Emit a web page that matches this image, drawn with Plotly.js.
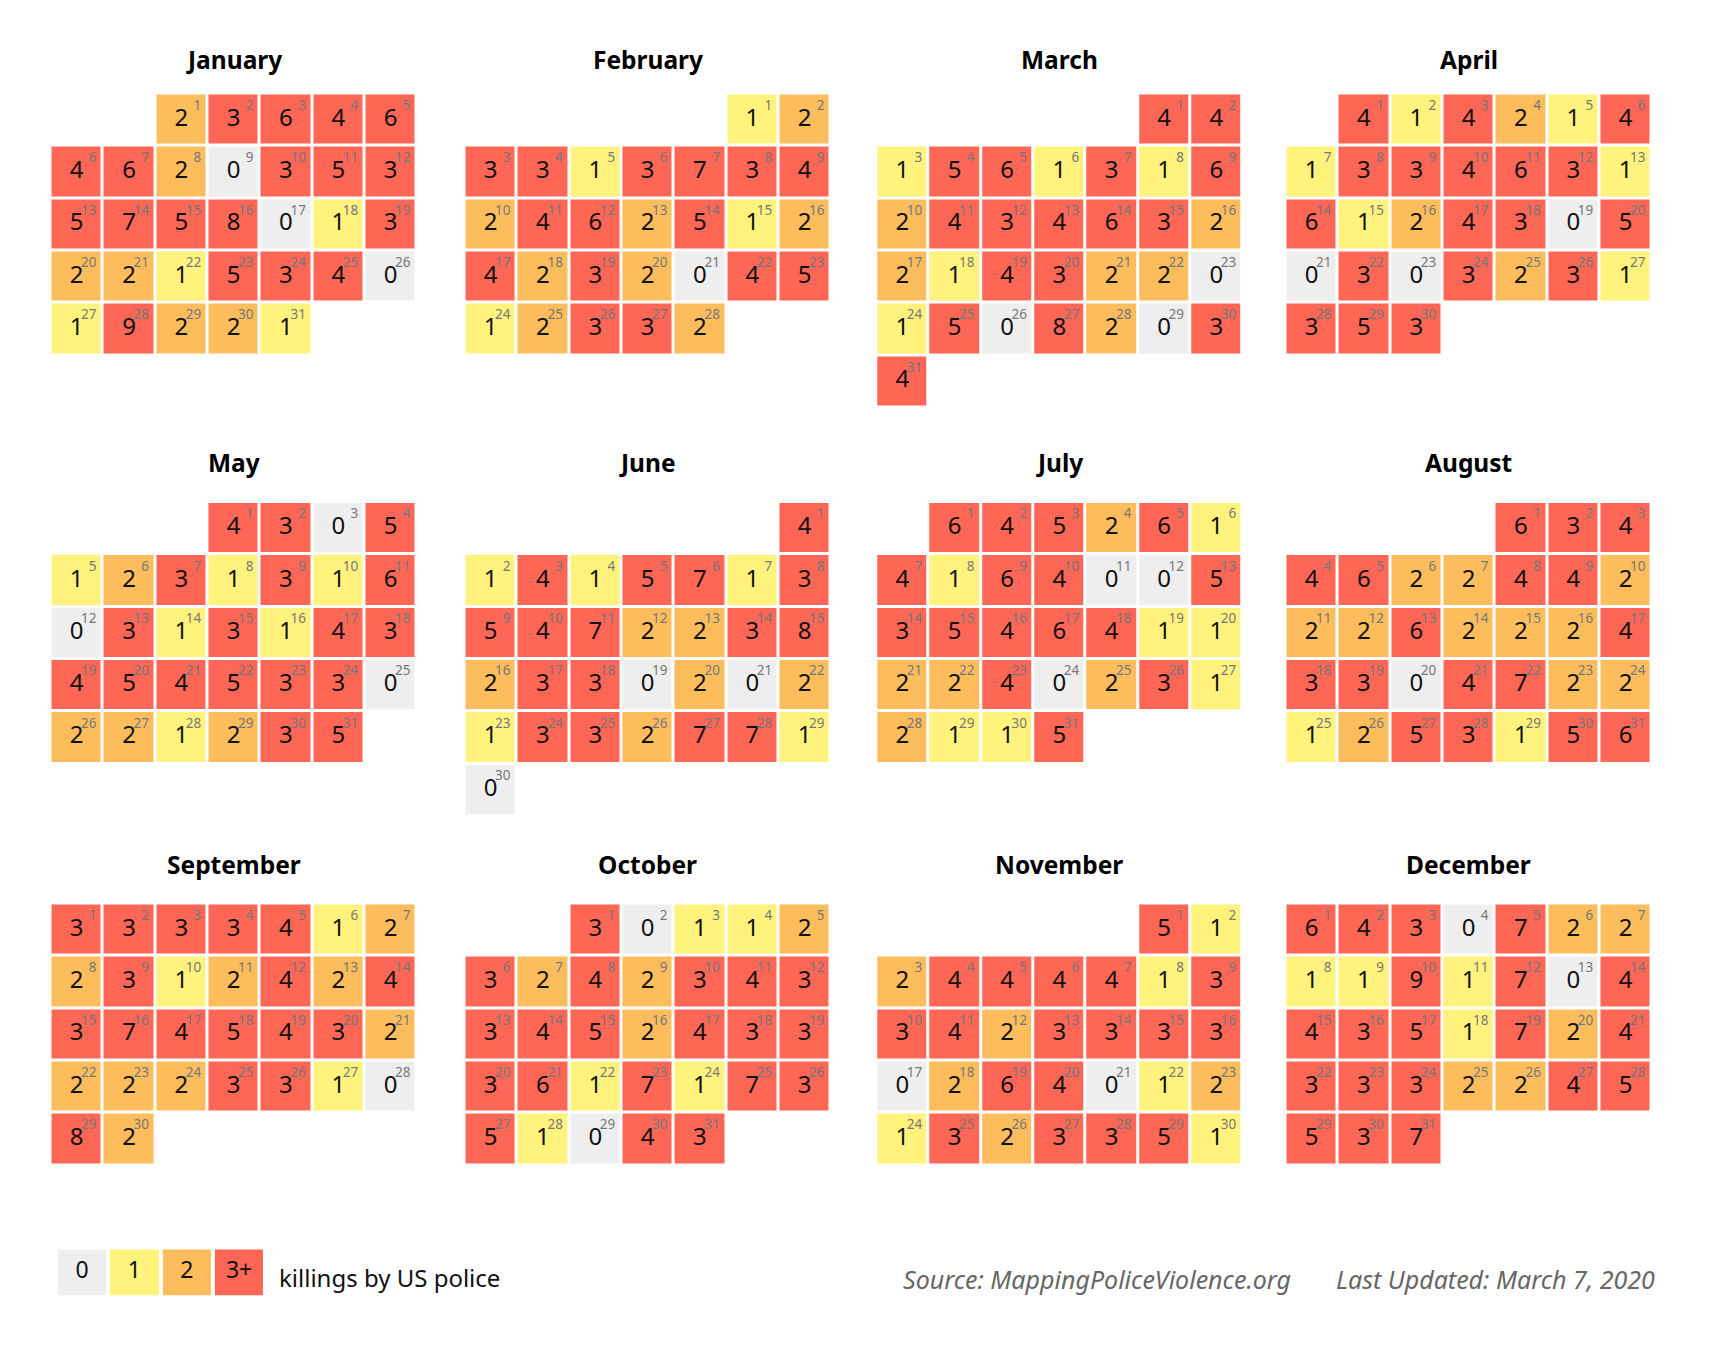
<!DOCTYPE html>
<html>
<head>
<meta charset="utf-8">
<script src="https://cdn.plot.ly/plotly-3.0.1.min.js"></script>
<style>html,body{margin:0;padding:0;background:#fff;}</style>
</head>
<body>
<div id="chart" style="width:1713px;height:1347px;"></div>
<script>
// ---- Data: killings by US police per day, 2019 ----
const year = 2019;
const monthNames = ['January','February','March','April','May','June','July','August','September','October','November','December'];
const jan = [2,3,6,4,6,4,6,2,0,3,5,3,5,7,5,8,0,1,3,2,2,1,5,3,4,0,1,9,2,2,1];
const feb = [1,2,3,3,1,3,7,3,4,2,4,6,2,5,1,2,4,2,3,2,0,4,5,1,2,3,3,2];
const mar = [4,4,1,5,6,1,3,1,6,2,4,3,4,6,3,2,2,1,4,3,2,2,0,1,5,0,8,2,0,3,4];
const apr = [4,1,4,2,1,4,1,3,3,4,6,3,1,6,1,2,4,3,0,5,0,3,0,3,2,3,1,3,5,3];
const may = [4,3,0,5,1,2,3,1,3,1,6,0,3,1,3,1,4,3,4,5,4,5,3,3,0,2,2,1,2,3,5];
const jun = [4,1,4,1,5,7,1,3,5,4,7,2,2,3,8,2,3,3,0,2,0,2,1,3,3,2,7,7,1,0];
const jul = [6,4,5,2,6,1,4,1,6,4,0,0,5,3,5,4,6,4,1,1,2,2,4,0,2,3,1,2,1,1,5];
const aug = [6,3,4,4,6,2,2,4,4,2,2,2,6,2,2,2,4,3,3,0,4,7,2,2,1,2,5,3,1,5,6];
const sep = [3,3,3,3,4,1,2,2,3,1,2,4,2,4,3,7,4,5,4,3,2,2,2,2,3,3,1,0,8,2];
const oct = [3,0,1,1,2,3,2,4,2,3,4,3,3,4,5,2,4,3,3,3,6,1,7,1,7,3,5,1,0,4,3];
const nov = [5,1,2,4,4,4,4,1,3,3,4,2,3,3,3,3,0,2,6,4,0,1,2,1,3,2,3,3,5,1];
const dec = [6,4,3,0,7,2,2,1,1,9,1,7,0,4,4,3,5,1,7,2,4,3,3,3,2,2,4,5,5,3,7];
const legendLevels = [0,1,2,3];
const legendLabels = ['0','1','2','3+'];
const legendText = 'killings by US police';
const sourceText = 'Source: MappingPoliceViolence.org';
const updatedText = 'Last Updated: March 7, 2020';

const monthData = [jan,feb,mar,apr,may,jun,jul,aug,sep,oct,nov,dec];

// ---- Styling / layout ----
const W = 1713, H = 1347;
const FONT = 'Noto Sans, sans-serif';
const colors = ['#EEEEEE','#FFF37D','#FEBD5C','#FE6656'];
const colorscale = [[0,colors[0]],[0.25,colors[0]],[0.25,colors[1]],[0.5,colors[1]],[0.5,colors[2]],[0.75,colors[2]],[0.75,colors[3]],[1,colors[3]]];
const gridLeft = [52, 466, 877.7, 1287];
const gridTop = [95, 503.5, 905];
const titleY = [60, 462, 864];
const pitch = 52.33, gap = 3;

const traces = [];
const layout = {
  width: W, height: H,
  margin: {l:0, r:0, t:0, b:0},
  paper_bgcolor: '#fff', plot_bgcolor: 'rgba(0,0,0,0)',
  showlegend: false,
  font: {family: FONT},
  annotations: [],
  hovermode: false
};

function axisCommon(range, domain) {
  return {range: range, domain: domain, visible: false, showgrid: false, zeroline: false, fixedrange: true};
}

monthData.forEach((counts, i) => {
  const n = i + 1;
  const mc = i % 4, mr = Math.floor(i / 4);
  const x0 = gridLeft[mc] - gap/2, x1 = x0 + 7*pitch;
  const yt = gridTop[mr] - gap/2, yb = yt + 6*pitch;
  const xa = 'xaxis' + (n === 1 ? '' : n), ya = 'yaxis' + (n === 1 ? '' : n);
  const xr = 'x' + (n === 1 ? '' : n), yr = 'y' + (n === 1 ? '' : n);
  layout[xa] = Object.assign(axisCommon([-0.5, 6.5], [x0/W, x1/W]), {anchor: yr});
  layout[ya] = Object.assign(axisCommon([5.5, -0.5], [1 - yb/H, 1 - yt/H]), {anchor: xr});

  const first = new Date(year, i, 1).getDay();
  const z = Array.from({length: 6}, () => Array(7).fill(null));
  const cx = [], cy = [], ct = [], dx = [], dy = [], dt = [];
  counts.forEach((c, d) => {
    const pos = first + d;
    const r = Math.floor(pos / 7), col = pos % 7;
    z[r][col] = Math.min(c, 3);
    cx.push(col); cy.push(r); ct.push(String(c));
    dx.push(col + 0.38); dy.push(r - 0.25); dt.push(String(d + 1));
  });
  traces.push({type: 'heatmap', z: z, x: [0,1,2,3,4,5,6], y: [0,1,2,3,4,5],
    xaxis: xr, yaxis: yr, colorscale: colorscale, zmin: -0.5, zmax: 3.5,
    showscale: false, xgap: gap, ygap: gap, hoverinfo: 'skip'});
  traces.push({type: 'scatter', mode: 'text', x: cx, y: cy, text: ct, xaxis: xr, yaxis: yr,
    textposition: 'middle center', textfont: {family: FONT, size: 24, color: '#111'}, hoverinfo: 'skip'});
  traces.push({type: 'scatter', mode: 'text', x: dx, y: dy, text: dt, xaxis: xr, yaxis: yr,
    textposition: 'middle left', textfont: {family: FONT, size: 13.5, color: '#777'}, hoverinfo: 'skip'});

  layout.annotations.push({
    text: '<b>' + monthNames[i] + '</b>', xref: 'paper', yref: 'paper',
    x: (gridLeft[mc] + gridLeft[mc] + 7*pitch - gap) / 2 / W, y: 1 - titleY[mr]/H,
    xanchor: 'center', yanchor: 'middle', showarrow: false,
    font: {family: FONT, size: 24.5, color: '#000'}
  });
});

// Legend as a small heatmap subplot
const ln = 13;
const lx0 = 55.9, lx1 = lx0 + 4*pitch, lyt = 1249.3, lyb = 1295.7;
layout['xaxis' + ln] = Object.assign(axisCommon([-0.5, 3.5], [lx0/W, lx1/W]), {anchor: 'y' + ln});
layout['yaxis' + ln] = Object.assign(axisCommon([0.5, -0.5], [1 - lyb/H, 1 - lyt/H]), {anchor: 'x' + ln});
traces.push({type: 'heatmap', z: [legendLevels], x: [0,1,2,3], y: [0], xaxis: 'x' + ln, yaxis: 'y' + ln,
  colorscale: colorscale, zmin: -0.5, zmax: 3.5, showscale: false, xgap: 4, ygap: 0, hoverinfo: 'skip'});
traces.push({type: 'scatter', mode: 'text', x: [0,1,2,3], y: [0,0,0,0], text: legendLabels,
  xaxis: 'x' + ln, yaxis: 'y' + ln, textposition: 'middle center',
  textfont: {family: FONT, size: 23, color: '#111'}, hoverinfo: 'skip'});

layout.annotations.push({text: legendText, xref: 'paper', yref: 'paper', x: 277/W, y: 1 - 1277/H,
  xanchor: 'left', yanchor: 'middle', showarrow: false, font: {family: FONT, size: 24, color: '#111'}});
layout.annotations.push({text: '<i>' + sourceText + '</i>', xref: 'paper', yref: 'paper', x: 1293/W, y: 1 - 1279/H,
  xanchor: 'right', yanchor: 'middle', showarrow: false, font: {family: FONT, size: 25, color: '#666'}});
layout.annotations.push({text: '<i>' + updatedText + '</i>', xref: 'paper', yref: 'paper', x: 1657/W, y: 1 - 1279/H,
  xanchor: 'right', yanchor: 'middle', showarrow: false, font: {family: FONT, size: 25, color: '#666'}});

Plotly.newPlot('chart', traces, layout, {staticPlot: true, displayModeBar: false});
</script>
</body>
</html>
